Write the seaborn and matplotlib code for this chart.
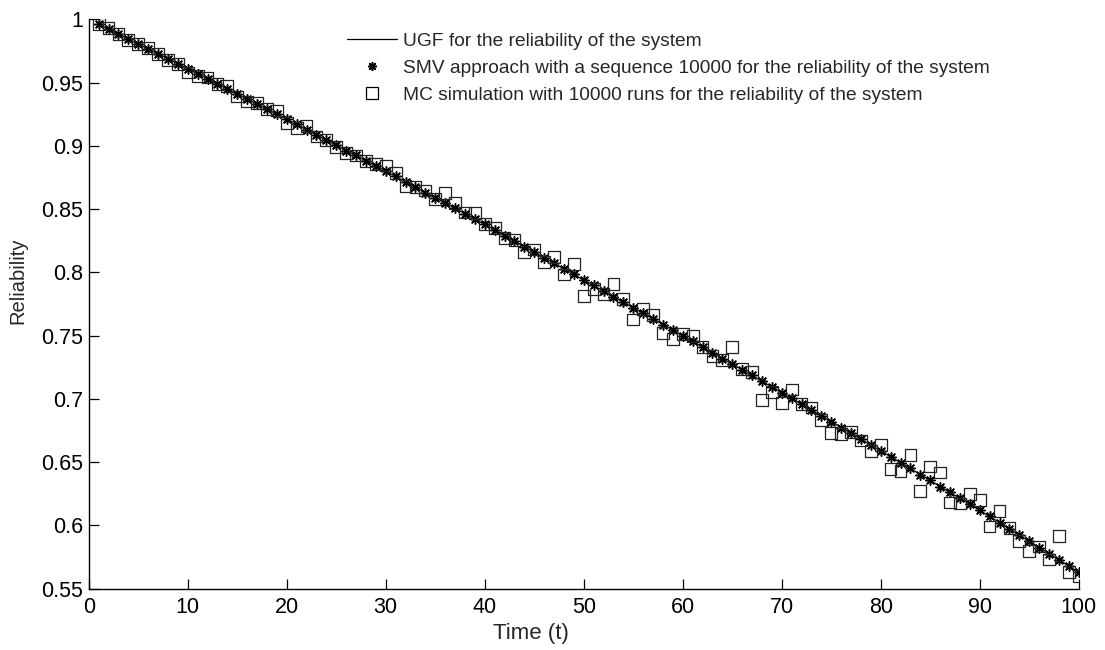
import matplotlib
matplotlib.use("Agg")
import matplotlib.pyplot as plt
import seaborn as sns
import pandas as pd
from matplotlib.lines import Line2D

# ---- data ----
time = list(range(1, 101))

ugf = [0.9961, 0.9922, 0.9883, 0.9844, 0.9805, 0.9766, 0.9727, 0.9688, 0.9649, 0.9610,
       0.9570, 0.9530, 0.9490, 0.9450, 0.9410, 0.9370, 0.9330, 0.9290, 0.9250, 0.9210,
       0.9169, 0.9128, 0.9087, 0.9046, 0.9005, 0.8964, 0.8923, 0.8882, 0.8841, 0.8800,
       0.8758, 0.8716, 0.8674, 0.8632, 0.8590, 0.8548, 0.8506, 0.8464, 0.8422, 0.8380,
       0.8336, 0.8292, 0.8248, 0.8204, 0.8160, 0.8116, 0.8072, 0.8028, 0.7984, 0.7940,
       0.7896, 0.7852, 0.7808, 0.7764, 0.7720, 0.7676, 0.7632, 0.7588, 0.7544, 0.7500,
       0.7455, 0.7410, 0.7365, 0.7320, 0.7275, 0.7230, 0.7185, 0.7140, 0.7095, 0.7050,
       0.7004, 0.6958, 0.6912, 0.6866, 0.6820, 0.6774, 0.6728, 0.6682, 0.6636, 0.6590,
       0.6543, 0.6496, 0.6449, 0.6402, 0.6355, 0.6308, 0.6261, 0.6214, 0.6167, 0.6120,
       0.6071, 0.6022, 0.5973, 0.5924, 0.5875, 0.5826, 0.5777, 0.5728, 0.5679, 0.5630]

smv = [0.9962, 0.9921, 0.9884, 0.9843, 0.9806, 0.9765, 0.9728, 0.9687, 0.9650, 0.9609,
       0.9571, 0.9529, 0.9491, 0.9449, 0.9411, 0.9369, 0.9331, 0.9289, 0.9251, 0.9209,
       0.9170, 0.9127, 0.9088, 0.9045, 0.9006, 0.8963, 0.8924, 0.8881, 0.8842, 0.8799,
       0.8759, 0.8715, 0.8675, 0.8631, 0.8591, 0.8547, 0.8507, 0.8463, 0.8423, 0.8379,
       0.8337, 0.8291, 0.8249, 0.8203, 0.8161, 0.8115, 0.8073, 0.8027, 0.7985, 0.7939,
       0.7897, 0.7851, 0.7809, 0.7763, 0.7721, 0.7675, 0.7633, 0.7587, 0.7545, 0.7499,
       0.7456, 0.7409, 0.7366, 0.7319, 0.7276, 0.7229, 0.7186, 0.7139, 0.7096, 0.7049,
       0.7005, 0.6957, 0.6913, 0.6865, 0.6821, 0.6773, 0.6729, 0.6681, 0.6637, 0.6589,
       0.6544, 0.6495, 0.6450, 0.6401, 0.6356, 0.6307, 0.6262, 0.6213, 0.6168, 0.6119,
       0.6072, 0.6021, 0.5974, 0.5923, 0.5876, 0.5825, 0.5778, 0.5727, 0.5680, 0.5629]

mc = [0.9961, 0.9932, 0.9883, 0.9834, 0.9805, 0.9776, 0.9727, 0.9678, 0.9649, 0.9580,
      0.9555, 0.9540, 0.9490, 0.9470, 0.9390, 0.9350, 0.9340, 0.9290, 0.9280, 0.9180,
      0.9143, 0.9158, 0.9074, 0.9046, 0.8990, 0.8944, 0.8923, 0.8882, 0.8856, 0.8845,
      0.8784, 0.8682, 0.8674, 0.8647, 0.8580, 0.8628, 0.8546, 0.8474, 0.8472, 0.8380,
      0.8349, 0.8272, 0.8256, 0.8164, 0.8180, 0.8082, 0.8122, 0.7983, 0.8064, 0.7816,
      0.7866, 0.7826, 0.7905, 0.7790, 0.7628, 0.7710, 0.7662, 0.7518, 0.7474, 0.7513,
      0.7495, 0.7410, 0.7339, 0.7307, 0.7412, 0.7238, 0.7215, 0.6990, 0.7055, 0.6966,
      0.7074, 0.6958, 0.6932, 0.6832, 0.6730, 0.6724, 0.6738, 0.6672, 0.6589, 0.6637,
      0.6446, 0.6430, 0.6559, 0.6272, 0.6465, 0.6418, 0.6181, 0.6174, 0.6247, 0.6204,
      0.5991, 0.6114, 0.5981, 0.5874, 0.5799, 0.5834, 0.5730, 0.5918, 0.5629, 0.5600]

xticks = [0, 10, 20, 30, 40, 50, 60, 70, 80, 90, 100]
yticks = [0.55, 0.6, 0.65, 0.7, 0.75, 0.8, 0.85, 0.9, 0.95, 1.0]
ytick_labels = ["0.55", "0.6", "0.65", "0.7", "0.75", "0.8", "0.85", "0.9", "0.95", "1"]

labels = ["UGF for the reliability of the system",
          "SMV approach with a sequence 10000 for the reliability of the system",
          "MC simulation with 10000 runs for the reliability of the system"]

df = pd.DataFrame({"t": time, "ugf": ugf, "smv": smv, "mc": mc})

# ---- style ----
sns.set_style("ticks")
plt.rcParams["font.family"] = ["Liberation Sans", "DejaVu Sans"]
plt.rcParams["xtick.direction"] = "in"
plt.rcParams["ytick.direction"] = "in"

fig = plt.figure(figsize=(11.05, 6.5), dpi=100)
ax = fig.add_axes([0.0803, 0.0943, 0.8959, 0.8760])

STAR = (8, 2, 0)

sns.lineplot(data=df, x="t", y="ugf", ax=ax, color="black", linewidth=0.9,
             legend=False, zorder=2)
sns.scatterplot(data=df, x="t", y="smv", ax=ax, color="black", marker=STAR,
                s=46, linewidth=1.1, edgecolor="black", legend=False, zorder=3)
sns.scatterplot(data=df, x="t", y="mc", ax=ax, marker="s", s=72,
                facecolor="none", edgecolor="#222222", linewidth=0.9,
                legend=False, zorder=4)

ax.set_xlim(0, 100)
ax.set_ylim(0.55, 1.0)
ax.set_xticks(xticks)
ax.set_xticklabels([str(v) for v in xticks])
ax.set_yticks(yticks)
ax.set_yticklabels(ytick_labels)
ax.tick_params(axis="both", labelsize=15.5, length=7.5, width=0.9,
               colors="black")
ax.tick_params(axis="x", pad=6)
ax.tick_params(axis="y", pad=4)

for s in ["top", "right"]:
    ax.spines[s].set_visible(False)
for s in ["left", "bottom"]:
    ax.spines[s].set_linewidth(1.0)
    ax.spines[s].set_color("black")

ax.set_xlabel("Time (t)", fontsize=16)
ax.set_ylabel("Reliability", fontsize=14.5)
ax.xaxis.set_label_coords(0.447, -0.060)
ax.yaxis.set_label_coords(-0.0615, 0.54)

handles = [
    Line2D([], [], color="black", linewidth=0.9),
    Line2D([], [], color="black", linestyle="", marker=STAR,
           markersize=6.5, markeredgewidth=1.1),
    Line2D([], [], color="black", linestyle="", marker="s", markersize=8.5,
           markerfacecolor="none", markeredgewidth=0.9),
]
leg = ax.legend(handles, labels, loc="upper left", bbox_to_anchor=(0.2535, 0.99),
                frameon=False, fontsize=13.8, handlelength=2.6,
                handletextpad=0.3, labelspacing=0.5, borderaxespad=0)

fig.savefig("out.png", dpi=100)
